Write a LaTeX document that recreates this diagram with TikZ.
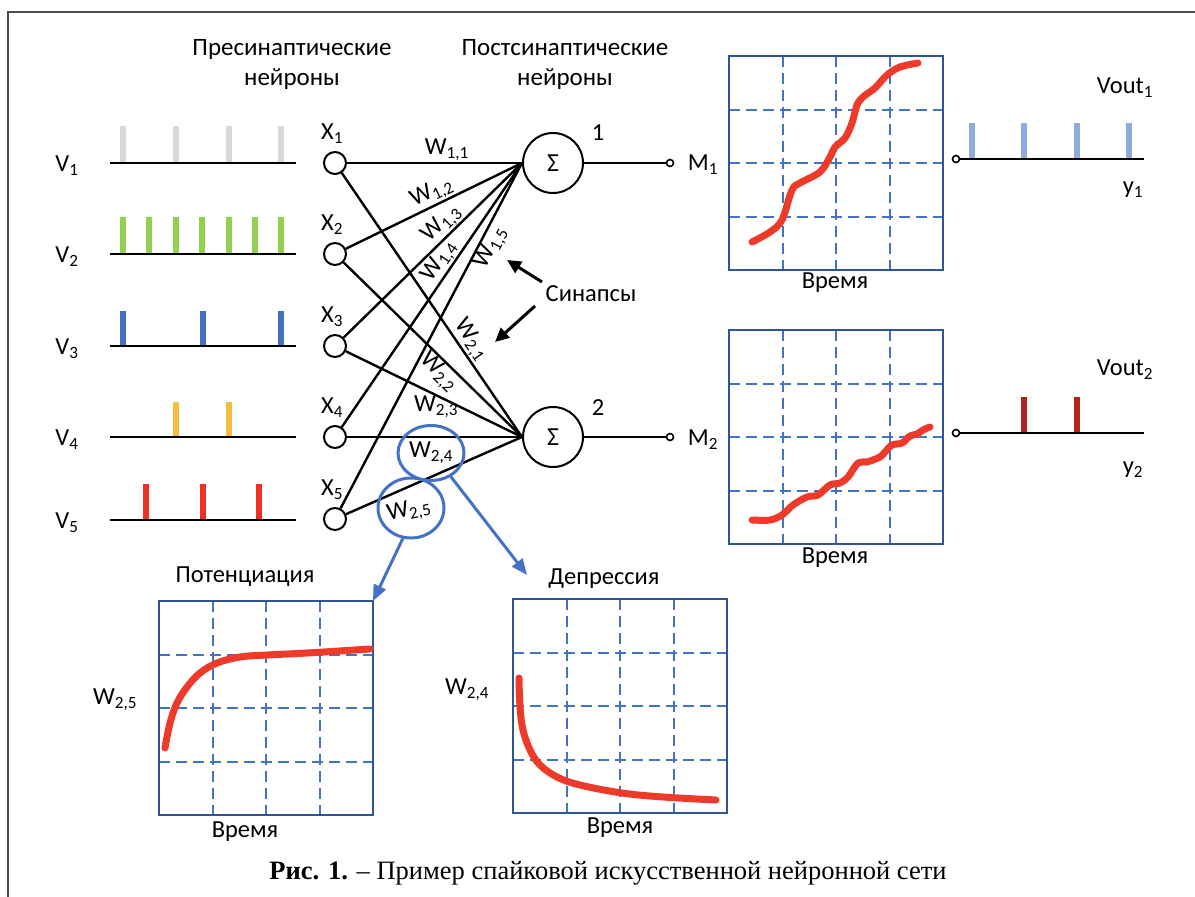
\documentclass[tikz,border=0pt]{standalone}
\usepackage{fontspec}
\setmainfont{Carlito}
\newfontfamily\capfont{Liberation Serif}
\usetikzlibrary{arrows.meta,shapes.geometric}
\definecolor{gridblue}{HTML}{4472C4}
\definecolor{frameblue}{HTML}{2F5597}
\definecolor{curvered}{HTML}{EE3A2A}
\definecolor{spgray}{HTML}{D9D9D9}
\definecolor{spgreen}{HTML}{92D050}
\definecolor{spblue}{HTML}{4472C4}
\definecolor{spyellow}{HTML}{F5BD3F}
\definecolor{spred}{HTML}{EE3124}
\definecolor{outblue}{HTML}{8FAADC}
\definecolor{outred}{HTML}{B5231D}
\definecolor{framegray}{HTML}{4D4D4D}
\begin{document}
\begin{tikzpicture}[x=1pt,y=-1pt,
  every node/.style={font=\fontsize{24.5}{28}\selectfont, inner sep=0.5pt},
  wire/.style={line width=2.4pt, black},
  xnode/.style={circle, draw, line width=2pt, minimum size=22pt, inner sep=0pt},
  sumnode/.style={circle, draw, line width=2pt, minimum size=60pt, inner sep=0pt, font=\fontsize{26}{28}\selectfont},
  port/.style={circle, draw, line width=1.6pt, minimum size=7pt, inner sep=0pt, fill=white},
  spike/.style={line width=5.5pt},
  gridline/.style={gridblue, line width=2pt, dash pattern=on 11pt off 6pt},
  chartframe/.style={frameblue, line width=2.5pt},
  curve/.style={curvered, line width=7pt, line cap=round, line join=round},
  bluearrow/.style={gridblue, line width=3pt, -{Triangle[length=16pt,width=13pt]}},
  blackarrow/.style={black, line width=3pt, -{Triangle[length=14pt,width=13pt]}},
  head/.style={align=center, font=\fontsize{25}{30}\selectfont},
  selips/.style={ellipse, draw=gridblue, line width=3pt, inner sep=0pt},
]
\useasboundingbox (0,0) rectangle (1195,897);
\draw[framegray, line width=2.5pt] (8,897) -- (8,12) -- (1195,12);

% headings
\node[head] (pre) at (292,64) {Пресинаптические\\нейроны};
\node[head] (post) at (565,64) {Постсинаптические\\нейроны};

% input spike trains
\foreach \x in {123,176,229,281} \draw[spike, spgray] (\x,163) -- (\x,126);
\foreach \x in {123,149,176,202,229,255,281} \draw[spike, spgreen] (\x,254) -- (\x,217);
\foreach \x in {123,203,281} \draw[spike, spblue] (\x,346) -- (\x,311);
\foreach \x in {176,229} \draw[spike, spyellow] (\x,437) -- (\x,402);
\foreach \x in {146,203,259} \draw[spike, spred] (\x,520) -- (\x,484);
\foreach \i/\yy in {1/163,2/254,3/346,4/437,5/520} {
  \node (v\i) at (67,\yy+3) {V\textsubscript{\i}};
  \coordinate (v\i s) at (110,\yy);
  \coordinate (v\i e) at (296,\yy);
  \draw[wire] (v\i s) -- (v\i e);
}

% input neurons
\foreach \i/\yy in {1/163,2/254,3/346,4/437,5/519} {
  \node[xnode] (x\i) at (335,\yy) {};
  \node (xl\i) at (332,\yy-29) {X\textsubscript{\i}};
}

% output neurons
\node[sumnode] (s1) at (553,163) {Σ};
\node[sumnode] (s2) at (553,437) {Σ};
\node (n1) at (598,133) {1};
\node (n2) at (598,408) {2};

% synapses
\draw[wire] (x1) -- (s1.west) node[pos=0.57, above, inner sep=1pt] (w11) {W\textsubscript{1,1}};
\draw[wire] (x2) -- (s1.west) node[pos=0.52, sloped, above] (w12) {W\textsubscript{1,2}};
\draw[wire] (x3) -- (s1.west) node[pos=0.6, sloped, above] (w13) {W\textsubscript{1,3}};
\draw[wire] (x4) -- (s1.west) node[pos=0.6, sloped, above] (w14) {W\textsubscript{1,4}};
\draw[wire] (x5) -- (s1.west) node[pos=0.77, sloped, below] (w15) {W\textsubscript{1,5}};
\draw[wire] (x1) -- (s2.west) node[pos=0.66, sloped, above] (w21) {W\textsubscript{2,1}};
\draw[wire] (x2) -- (s2.west) node[pos=0.58, sloped, below] (w22) {W\textsubscript{2,2}};
\draw[wire] (x3) -- (s2.west);
\draw[wire] (x4) -- (s2.west);
\draw[wire] (x5) -- (s2.west);
\node (w23) at (436,407) {W\textsubscript{2,3}};

\node[selips, minimum width=66pt, minimum height=55pt] (el24) at (431,453) {W\textsubscript{2,4}};
\node[selips, minimum width=66pt, minimum height=60pt] (el25) at (411,508) {};
\node[rotate=12] (w25) at (409,511) {W\textsubscript{2,5}};

% Synapse arrows
\node (syn) at (591,294) {Синапсы};
\coordinate (sa1) at (507,260);
\coordinate (sa2) at (495,342);
\draw[blackarrow] ([shift={(-3,-12)}]syn.west) -- (sa1);
\draw[blackarrow] ([shift={(-10,12)}]syn.west) -- (sa2);

% outputs M
\node[port] (m1p) at (670,163) {};
\node[port] (m2p) at (670,437) {};
\draw[wire] (s1) -- (m1p);
\draw[wire] (s2) -- (m2p);
\node (m1) at (703,165) {M\textsubscript{1}};
\node (m2) at (703,440) {M\textsubscript{2}};

% charts
\foreach \cx/\cy in {729/56, 729/330, 159/601, 513/599} {
  \begin{scope}[shift={(\cx,\cy)}]
    \foreach \k in {1,2,3} {
      \draw[gridline] (\k*53.5,0) -- (\k*53.5,214);
      \draw[gridline] (0,\k*53.5) -- (214,\k*53.5);
    }
    \draw[chartframe] (0,0) rectangle (214,214);
  \end{scope}
}
\draw[curve] plot[smooth, tension=0.55] coordinates {(752,242) (770,232) (782,220) (792,190) (800,183) (820,172) (830,157) (835,147) (845,138) (852,123) (857,105) (863,97) (875,88) (887,75) (900,67) (918,63)};
\draw[curve] plot[smooth, tension=0.55] coordinates {(752,520) (770,520) (782,515) (793,505) (807,497) (818,495) (830,485) (840,483) (848,477) (858,463) (867,462) (880,457) (885,452) (892,445) (902,443) (910,436) (917,434) (923,430) (930,427)};
\draw[curve] plot[smooth, tension=0.6] coordinates {(165,748) (170,723) (177,703) (187,687) (200,673) (217,663) (240,657) (267,655) (307,653) (370,649)};
\draw[curve] plot[smooth, tension=0.6] coordinates {(519,678) (520,707) (523,730) (530,750) (540,765) (557,777) (580,785) (622,793) (663,797) (716,800)};

\node (t1) at (835,283) {Время};
\node (t2) at (835,558) {Время};
\node (potT) at (245,577) {Потенциация};
\node (t3) at (245,832) {Время};
\node (wp) at (115,700) {W\textsubscript{2,5}};
\node (depT) at (604,579) {Депрессия};
\node (t4) at (620,828) {Время};
\node (wd) at (467,690) {W\textsubscript{2,4}};

\coordinate (potc) at (373,601);
\coordinate (depc) at (527,575);
\draw[bluearrow] (el25.-105) -- (potc);
\draw[bluearrow] (el24.-50) -- (depc);

% output spike trains
\foreach \x in {972,1024,1077,1129} \draw[spike, outblue] (\x,159) -- (\x,123);
\foreach \x in {1024,1077} \draw[spike, outred] (\x,433) -- (\x,397);
\node[port] (o1) at (956,159) {};
\node[port] (o2) at (956,433) {};
\coordinate (o1e) at (1144,159);
\coordinate (o2e) at (1144,433);
\draw[wire] (o1) -- (o1e);
\draw[wire] (o2) -- (o2e);
\node (vo1) at (1125,88) {Vout\textsubscript{1}};
\node (vo2) at (1125,370) {Vout\textsubscript{2}};
\node (y1) at (1133,190) {y\textsubscript{1}};
\node (y2) at (1133,470) {y\textsubscript{2}};

% caption
\node[font=\capfont\fontsize{26.5}{30}\selectfont] (cap) at (608,873) {\textbf{Рис. 1.} – Пример спайковой искусственной нейронной сети};
\end{tikzpicture}
\end{document}
